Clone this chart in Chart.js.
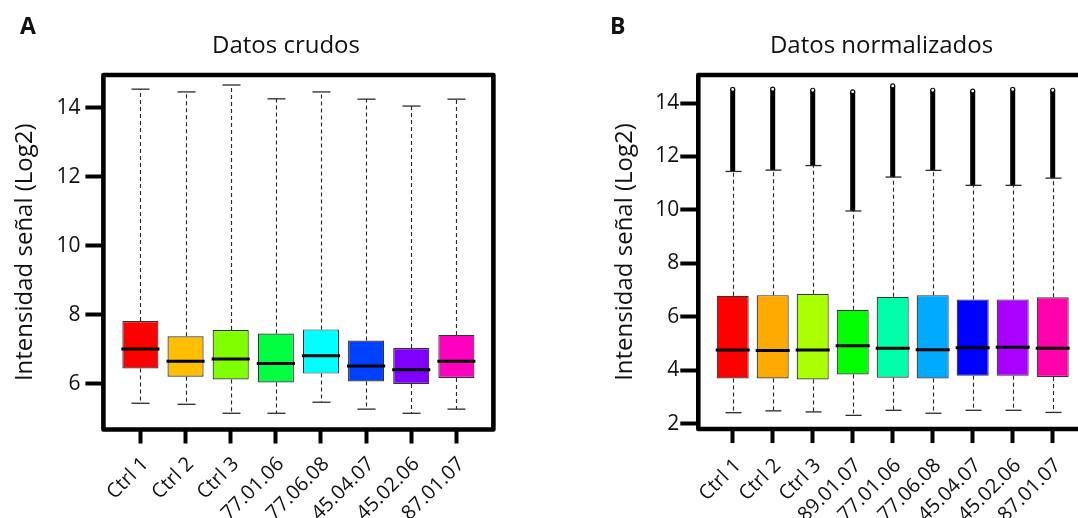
<!DOCTYPE html>
<html>
<head>
<meta charset="utf-8">
<script src="https://cdn.jsdelivr.net/npm/chart.js@4.4.1/dist/chart.umd.min.js"></script>
<style>
  html, body { margin: 0; padding: 0; background: #fff; overflow: hidden; width: 1078px; height: 518px; }
  canvas { position: absolute; top: 0; }
  #cA { left: 0; }
  #cB { left: 540px; }
</style>
</head>
<body>
<canvas id="cA" width="540" height="518"></canvas>
<canvas id="cB" width="560" height="518"></canvas>
<script>
// ---------- Panel A: raw data ----------
const categoriesA = ['Ctrl 1', 'Ctrl 2', 'Ctrl 3', '77.01.06', '77.06.08', '45.04.07', '45.02.06', '87.01.07'];
const colorsA = ['#FF0000', '#FFBF00', '#80FF00', '#00FF40', '#00FFFF', '#0040FF', '#8000FF', '#FF00BF'];
const whiskerLowA  = [5.44, 5.41, 5.15, 5.15, 5.47, 5.27, 5.15, 5.27];
const q1A          = [6.45, 6.21, 6.13, 6.04, 6.30, 6.07, 6.00, 6.17];
const medianA      = [7.01, 6.66, 6.72, 6.59, 6.82, 6.52, 6.41, 6.66];
const q3A          = [7.82, 7.38, 7.56, 7.46, 7.58, 7.26, 7.04, 7.42];
const whiskerHighA = [14.54, 14.46, 14.66, 14.26, 14.46, 14.25, 14.05, 14.25];
const yTicksA = [6, 8, 10, 12, 14];

// ---------- Panel B: normalised data ----------
const categoriesB = ['Ctrl 1', 'Ctrl 2', 'Ctrl 3', '89.01.07', '77.01.06', '77.06.08', '45.04.07', '45.02.06', '87.01.07'];
const colorsB = ['#FF0000', '#FFAA00', '#AAFF00', '#00FF00', '#00FFAA', '#00AAFF', '#0000FF', '#AA00FF', '#FF00AA'];
const whiskerLowB  = [2.41, 2.48, 2.44, 2.31, 2.50, 2.39, 2.50, 2.50, 2.42];
const q1B          = [3.69, 3.69, 3.65, 3.84, 3.72, 3.69, 3.79, 3.79, 3.75];
const medianB      = [4.76, 4.74, 4.76, 4.92, 4.82, 4.77, 4.84, 4.86, 4.82];
const q3B          = [6.79, 6.81, 6.86, 6.26, 6.75, 6.81, 6.65, 6.65, 6.73];
const whiskerHighB = [11.44, 11.49, 11.66, 9.96, 11.23, 11.48, 10.92, 10.92, 11.19];
const outlierMaxB  = [14.51, 14.52, 14.48, 14.42, 14.64, 14.48, 14.45, 14.51, 14.48];
const yTicksB = [2, 4, 6, 8, 10, 12, 14];

const yTitle = 'Intensidad señal (Log2)';
const FONT = "'Open Sans', 'DejaVu Sans', sans-serif";

function seg(ctx, x1, y1, x2, y2) {
  ctx.beginPath(); ctx.moveTo(x1, y1); ctx.lineTo(x2, y2); ctx.stroke();
}

function makeBoxPlugin(d) {
  return {
    id: 'boxExtras',
    beforeDatasetsDraw(chart) {
      const { ctx, scales: { x, y } } = chart;
      const capHalf = Math.abs(x.getPixelForValue(1.2) - x.getPixelForValue(1));
      ctx.save();
      // outliers (dense open circles) above the upper whisker
      if (d.outMax) {
        d.outMax.forEach((m, i) => {
          const px = x.getPixelForValue(i + 1);
          ctx.strokeStyle = '#000';
          ctx.lineWidth = 5;
          ctx.lineCap = 'butt';
          seg(ctx, px, y.getPixelForValue(d.hi[i]), px, y.getPixelForValue(m));
          ctx.beginPath();
          ctx.arc(px, y.getPixelForValue(m), 2, 0, Math.PI * 2);
          ctx.fillStyle = '#fff';
          ctx.fill();
          ctx.lineWidth = 1.2;
          ctx.stroke();
        });
      }
      d.q1.forEach((_, i) => {
        const px = Math.round(x.getPixelForValue(i + 1)) + 0.5;
        ctx.strokeStyle = '#2a2a2a';
        ctx.lineWidth = 1.15;
        ctx.setLineDash([4, 3]);
        seg(ctx, px, y.getPixelForValue(d.q3[i]), px, y.getPixelForValue(d.hi[i]));
        seg(ctx, px, y.getPixelForValue(d.q1[i]), px, y.getPixelForValue(d.lo[i]));
        ctx.setLineDash([]);
        ctx.lineWidth = 1.3;
        const yh = y.getPixelForValue(d.hi[i]);
        const yl = y.getPixelForValue(d.lo[i]);
        seg(ctx, px - capHalf, yh, px + capHalf, yh);
        seg(ctx, px - capHalf, yl, px + capHalf, yl);
      });
      ctx.restore();
    },
    afterDatasetsDraw(chart) {
      const { ctx, scales: { x, y } } = chart;
      const boxHalf = Math.abs(x.getPixelForValue(1.4) - x.getPixelForValue(1));
      ctx.save();
      ctx.strokeStyle = '#000';
      ctx.lineWidth = 3;
      d.med.forEach((m, i) => {
        const px = x.getPixelForValue(i + 1);
        const py = y.getPixelForValue(m);
        seg(ctx, px - boxHalf - 1, py, px + boxHalf + 1, py);
      });
      ctx.restore();
    },
    afterDraw(chart) {
      const { ctx, chartArea: a } = chart;
      ctx.save();
      ctx.strokeStyle = '#000';
      ctx.lineWidth = 4.6;
      ctx.lineJoin = 'round';
      ctx.strokeRect(a.left, a.top, a.right - a.left, a.bottom - a.top);
      ctx.fillStyle = '#111';
      ctx.textBaseline = 'alphabetic';
      ctx.font = `24px ${FONT}`;
      ctx.textAlign = 'center';
      ctx.fillText(d.title, d.titleX, 53);
      ctx.font = `bold 23px ${FONT}`;
      ctx.textAlign = 'left';
      ctx.fillText(d.letter, d.letterX, 33.5);
      ctx.restore();
    }
  };
}

function makeBoxChart(id, d) {
  const cats = d.categories;
  return new Chart(document.getElementById(id), {
    type: 'bar',
    data: {
      datasets: [{
        data: cats.map((c, i) => ({ x: i + 1, y: [d.q1[i], d.q3[i]] })),
        backgroundColor: d.colors,
        borderColor: '#333',
        borderWidth: 1.2,
        borderSkipped: false,
        categoryPercentage: 1,
        barPercentage: 0.8
      }]
    },
    options: {
      responsive: false,
      animation: false,
      devicePixelRatio: 1,
      layout: { padding: { left: 0, right: d.padRight, top: d.top, bottom: 0 } },
      plugins: { legend: { display: false }, title: { display: false }, tooltip: { enabled: false } },
      scales: {
        x: {
          type: 'linear',
          offset: false,
          min: d.xMin, max: d.xMax,
          afterBuildTicks: s => { s.ticks = cats.map((c, i) => ({ value: i + 1 })); },
          afterFit: s => { s.height = d.xAxisHeight; },
          ticks: {
            autoSkip: false,
            minRotation: 45, maxRotation: 45,
            padding: d.xTickPad,
            labelOffset: 5,
            color: '#111',
            font: { family: FONT, size: 20 },
            callback: v => cats[Math.round(v) - 1]
          },
          grid: { display: true, offset: false, drawOnChartArea: false, drawTicks: true,
                  tickLength: 14, tickWidth: 4, tickColor: '#000', color: 'rgba(0,0,0,0)' },
          border: { display: false }
        },
        y: {
          type: 'linear',
          min: d.yMin, max: d.yMax,
          afterBuildTicks: s => { s.ticks = d.yTicks.map(v => ({ value: v })); },
          afterFit: s => { s.width = d.yAxisWidth; },
          ticks: { padding: d.yTickPad, color: '#111', font: { family: FONT, size: 21 } },
          grid: { display: true, drawOnChartArea: false, drawTicks: true,
                  tickLength: 18, tickWidth: 4, tickColor: '#000', color: 'rgba(0,0,0,0)' },
          border: { display: false },
          title: { display: true, text: yTitle, color: '#111',
                   font: { family: FONT, size: 24 }, padding: { top: d.yTitlePad, bottom: 0 } }
        }
      }
    },
    plugins: [makeBoxPlugin(d)]
  });
}

makeBoxChart('cA', {
  categories: categoriesA, colors: colorsA,
  lo: whiskerLowA, q1: q1A, med: medianA, q3: q3A, hi: whiskerHighA,
  yTicks: yTicksA, yMin: 4.68, yMax: 14.95, xMin: 0.18, xMax: 8.82,
  top: 75, padRight: 46.6, xAxisHeight: 88.5, yAxisWidth: 103.4, yTickPad: 5, yTitlePad: 10.6, xTickPad: 9,
  title: 'Datos crudos', titleX: 286, letter: 'A', letterX: 20
});

makeBoxChart('cB', {
  categories: categoriesB, colors: colorsB,
  lo: whiskerLowB, q1: q1B, med: medianB, q3: q3B, hi: whiskerHighB, outMax: outlierMaxB,
  yTicks: yTicksB, yMin: 1.8, yMax: 15.05, xMin: 0.14, xMax: 9.86,
  top: 75, padRight: 12.9, xAxisHeight: 89, yAxisWidth: 158.3, yTickPad: 1, yTitlePad: 70.6, xTickPad: 11,
  title: 'Datos normalizados', titleX: 341.5, letter: 'B', letterX: 70
});
</script>
</body>
</html>
